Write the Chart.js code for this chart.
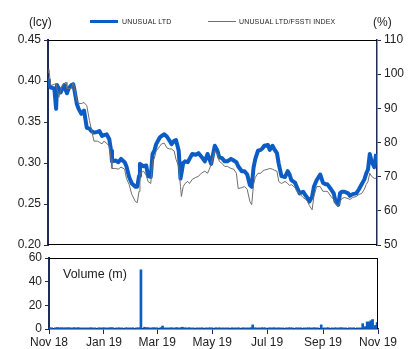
<!DOCTYPE html>
<html>
<head>
<meta charset="utf-8">
<script src="https://cdn.jsdelivr.net/npm/chart.js@4/dist/chart.umd.min.js"></script>
<style>
  body { margin:0; background:#fff; width:410px; height:349px; overflow:hidden; position:relative;
         font-family:"Liberation Sans", Arial, sans-serif; }
  canvas { position:absolute; left:0; }
  #main { top:0; }
  #vol  { top:250px; }
  .lbl { position:absolute; font-size:12px; line-height:14px; color:#222; white-space:nowrap; }
  .leg { position:absolute; font-size:7px; line-height:8px; color:#222; white-space:nowrap; letter-spacing:0.15px; }
  .swatch { position:absolute; height:0; }
</style>
</head>
<body>
<canvas id="main" width="410" height="250"></canvas>
<canvas id="vol" width="410" height="99"></canvas>

<div class="lbl" style="left:29px;top:15px">(lcy)</div>
<div class="lbl" style="left:373px;top:15px">(%)</div>
<div class="swatch" style="left:90px;top:20px;width:28px;border-top:3px solid #0b5cc4"></div>
<div class="leg" style="left:122px;top:18px">UNUSUAL LTD</div>
<div class="swatch" style="left:208px;top:21px;width:28px;border-top:1px solid #6e6e6e"></div>
<div class="leg" style="left:239px;top:18px">UNUSUAL LTD/FSSTI INDEX</div>
<div class="lbl" style="left:63px;top:267px;font-size:12.5px">Volume (m)</div>

<script>
// ─── Data ────────────────────────────────────────────────────────────────────
const START = "2018-11-01";

const dates = [
  "2018-11-01","2018-11-02","2018-11-04","2018-11-08","2018-11-10","2018-11-11","2018-11-13","2018-11-15","2018-11-17","2018-11-19",
  "2018-11-21","2018-11-22","2018-11-24","2018-11-27","2018-11-29","2018-11-30","2018-12-03","2018-12-05","2018-12-08","2018-12-11",
  "2018-12-14","2018-12-17","2018-12-19","2018-12-22","2018-12-26","2018-12-28","2018-12-31","2019-01-02","2019-01-05","2019-01-08",
  "2019-01-10","2019-01-11","2019-01-15","2019-01-18","2019-01-21","2019-01-25","2019-01-27","2019-01-30","2019-02-02","2019-02-06",
  "2019-02-08","2019-02-10","2019-02-11","2019-02-15","2019-02-18","2019-02-20","2019-02-23","2019-02-25","2019-02-27","2019-03-01",
  "2019-03-05","2019-03-07","2019-03-10","2019-03-13","2019-03-16","2019-03-18","2019-03-21","2019-03-23","2019-03-26","2019-03-28",
  "2019-03-29","2019-03-31","2019-04-02","2019-04-05","2019-04-07","2019-04-10","2019-04-14","2019-04-17","2019-04-20","2019-04-24",
  "2019-04-27","2019-04-29","2019-05-01","2019-05-05","2019-05-08","2019-05-10","2019-05-13","2019-05-16","2019-05-19","2019-05-23",
  "2019-05-26","2019-05-29","2019-05-31","2019-06-04","2019-06-07","2019-06-10","2019-06-13","2019-06-15","2019-06-17","2019-06-19",
  "2019-06-22","2019-06-25","2019-06-27","2019-06-29","2019-07-03","2019-07-05","2019-07-08","2019-07-10","2019-07-13","2019-07-15",
  "2019-07-18","2019-07-22","2019-07-25","2019-07-27","2019-07-29","2019-08-02","2019-08-04","2019-08-07","2019-08-11","2019-08-14",
  "2019-08-16","2019-08-18","2019-08-21","2019-08-23","2019-08-26","2019-08-30","2019-09-02","2019-09-05","2019-09-07","2019-09-11",
  "2019-09-14","2019-09-16","2019-09-19","2019-09-21","2019-09-23","2019-09-26","2019-09-30","2019-10-02","2019-10-05","2019-10-09",
  "2019-10-12","2019-10-15","2019-10-18","2019-10-20","2019-10-22","2019-10-24","2019-10-26","2019-10-29","2019-10-31"
];

// share price, local currency (left axis)
const price = [
  0.401,0.395,0.392,0.391,0.366,0.395,0.391,0.386,0.391,0.395,
  0.388,0.385,0.391,0.395,0.396,0.391,0.372,0.366,0.360,0.364,
  0.343,0.342,0.339,0.337,0.338,0.339,0.333,0.334,0.335,0.329,
  0.315,0.302,0.303,0.301,0.305,0.301,0.296,0.283,0.275,0.271,
  0.271,0.284,0.299,0.296,0.297,0.284,0.283,0.311,0.315,0.323,
  0.331,0.333,0.335,0.332,0.327,0.323,0.327,0.328,0.315,0.281,
  0.287,0.300,0.302,0.301,0.305,0.311,0.310,0.312,0.308,0.302,
  0.311,0.305,0.299,0.321,0.315,0.307,0.306,0.302,0.302,0.305,
  0.303,0.301,0.296,0.290,0.290,0.286,0.273,0.271,0.294,0.305,
  0.315,0.316,0.318,0.321,0.322,0.316,0.321,0.317,0.312,0.299,
  0.284,0.283,0.290,0.286,0.279,0.276,0.271,0.263,0.265,0.260,
  0.257,0.253,0.259,0.271,0.279,0.286,0.276,0.274,0.274,0.268,
  0.263,0.253,0.249,0.263,0.265,0.265,0.263,0.260,0.262,0.263,
  0.268,0.274,0.280,0.287,0.292,0.311,0.302,0.295,0.311
];

// relative to FSSTI index, % (right axis)
const relative = [
  100.5,101.4,96.7,97.0,97.3,95.8,93.2,95.2,96.7,97.3,
  97.6,95.8,95.8,95.8,97.6,96.4,92.3,91.4,91.4,91.7,
  90.8,86.4,84.0,80.4,80.4,80.1,79.6,80.4,79.8,78.9,
  75.1,72.4,72.4,72.2,72.8,72.2,69.5,67.7,64.8,62.7,
  62.4,65.7,71.0,71.6,70.4,68.6,68.0,74.5,75.4,77.5,
  78.9,79.6,79.8,78.4,78.1,78.1,77.5,75.1,73.0,67.1,
  64.2,67.1,68.0,68.6,68.0,69.2,69.8,70.1,71.0,71.6,
  71.0,72.2,73.6,77.5,76.6,74.5,73.9,73.0,73.0,72.4,
  72.2,71.0,66.5,66.8,67.1,66.3,62.7,61.8,67.7,69.8,
  71.0,71.0,71.6,71.9,72.2,72.4,72.2,71.9,71.6,68.6,
  68.0,68.6,68.0,67.4,67.7,66.8,65.7,65.1,63.9,63.3,
  62.7,61.5,60.3,64.2,67.1,67.1,65.7,65.7,65.7,64.2,
  63.3,62.1,61.2,62.7,63.6,63.9,63.6,63.3,63.9,64.2,
  64.8,65.1,66.3,67.7,68.6,71.0,70.1,69.5,69.5
];

// volume, millions of shares
const volume = [
  1.0,1.1,1.0,1.0,1.2,1.0,1.0,1.1,1.0,1.0,
  1.0,1.0,1.1,1.0,1.0,1.0,1.2,1.0,1.0,1.0,
  1.0,1.1,1.0,1.0,1.0,1.0,1.1,1.0,1.0,1.2,
  1.0,1.0,1.0,1.1,1.0,1.0,1.0,1.0,1.1,1.0,
  1.0,1.0,50.0,1.5,1.2,1.0,1.0,1.1,1.0,1.0,
  1.2,2.5,1.0,1.0,1.1,1.0,1.0,1.2,1.0,1.0,
  1.5,1.0,1.0,1.1,1.0,1.0,1.0,1.0,1.1,1.0,
  1.0,1.0,1.0,1.1,1.0,1.0,1.0,1.0,1.0,1.1,
  1.0,1.0,1.0,1.1,1.0,1.0,1.2,3.5,1.0,1.0,
  1.0,1.1,1.0,1.0,1.0,1.0,1.1,1.0,1.0,1.0,
  1.0,1.0,1.1,1.0,1.0,1.0,1.0,1.1,1.0,1.0,
  1.0,1.0,1.0,1.1,1.0,3.5,1.0,1.0,1.1,1.0,
  1.0,1.0,1.0,1.1,1.0,1.0,1.0,1.0,1.1,1.0,
  1.0,4.5,2.0,6.0,6.0,7.0,8.0,3.0,5.5
];

const tickDates  = ["2018-11-01","2019-01-01","2019-03-01","2019-05-01","2019-07-01","2019-09-01","2019-11-01"];
const tickLabels = ["Nov 18","Jan 19","Mar 19","May 19","Jul 19","Sep 19","Nov 19"];

const priceTicks = [0.20, 0.25, 0.30, 0.35, 0.40, 0.45];
const relTicks   = [50, 60, 70, 80, 90, 100, 110];
const volTicks   = [0, 20, 40, 60];

// ─── Colours ─────────────────────────────────────────────────────────────────
const BLUE  = "#0b5cc4";
const GREY  = "#6e6e6e";
const NAVY  = "#1f2a5c";
const TEXT  = "#222";

// ─── Helpers ─────────────────────────────────────────────────────────────────
function dayOf(s) {
    return (Date.parse(s + "T00:00:00Z") - Date.parse(START + "T00:00:00Z")) / 86400000;
}
const xDays   = dates.map(dayOf);
const tickPos = tickDates.map(dayOf);
const xMax    = tickPos[tickPos.length - 1];

const pts = (arr) => arr.map((v, i) => ({ x: xDays[i], y: v }));

Chart.defaults.font.family = "'Liberation Sans', Arial, sans-serif";
Chart.defaults.font.size   = 12;
Chart.defaults.color       = TEXT;
Chart.defaults.animation   = false;

// black frame lines on the sides that have no axis
const framePlugin = {
    id: "frame",
    afterDatasetsDraw(chart, args, opts) {
        const { ctx, chartArea: { left, right, top, bottom } } = chart;
        ctx.save();
        ctx.strokeStyle = "#000";
        ctx.lineWidth = 1;
        ctx.beginPath();
        if (opts.top)    { ctx.moveTo(left, top + 0.5);    ctx.lineTo(right, top + 0.5); }
        if (opts.bottom) { ctx.moveTo(left, bottom - 0.5); ctx.lineTo(right, bottom - 0.5); }
        if (opts.right)  { ctx.moveTo(right - 0.5, top);   ctx.lineTo(right - 0.5, bottom); }
        ctx.stroke();
        ctx.restore();
    }
};

function fixedTicks(list) {
    return (scale) => { scale.ticks = list.map(v => ({ value: v })); };
}

function yAxis(pos, min, max, list, width, fmt) {
    return {
        position: pos, min, max,
        afterBuildTicks: fixedTicks(list),
        afterFit: s => { s.width = width; s.paddingTop = 0; s.paddingBottom = 0; },
        ticks: { callback: fmt, padding: 3, color: TEXT, font: { size: 12 } },
        grid: { drawOnChartArea: false, tickLength: 4, color: NAVY, tickWidth: 1 },
        border: { color: NAVY, width: pos === "left" ? 2 : 1.5 }
    };
}

// ─── Price chart ────────────────────────────────────────────────────────────
new Chart(document.getElementById("main"), {
    type: "line",
    plugins: [framePlugin],
    data: {
        datasets: [
            {
                label: "UNUSUAL LTD/FSSTI INDEX",
                data: pts(relative),
                yAxisID: "y1",
                borderColor: GREY,
                borderWidth: 1,
                pointRadius: 0,
                tension: 0,
            },
            {
                label: "UNUSUAL LTD",
                data: pts(price),
                yAxisID: "y",
                borderColor: BLUE,
                borderWidth: 4,
                borderJoinStyle: "round",
                pointRadius: 0,
                tension: 0,
            }
        ]
    },
    options: {
        responsive: false,
        layout: { padding: { top: 40, bottom: 5, left: 0, right: 0 } },
        scales: {
            x: { type: "linear", min: 0, max: xMax, display: false },
            y: yAxis("left", 0.2, 0.45, priceTicks, 48, v => v.toFixed(2)),
            y1: yAxis("right", 50, 110, relTicks, 33, v => String(v)),
        },
        plugins: {
            legend: { display: false },
            tooltip: { enabled: false },
            frame: { top: true, bottom: true }
        }
    }
});

// ─── Volume chart ───────────────────────────────────────────────────────────
new Chart(document.getElementById("vol"), {
    type: "bar",
    plugins: [framePlugin],
    data: {
        datasets: [{
            label: "Volume (m)",
            data: pts(volume),
            backgroundColor: BLUE,
            barThickness: 2,
        }]
    },
    options: {
        responsive: false,
        layout: { padding: { top: 8, bottom: 0, left: 0, right: 32 } },
        scales: {
            x: {
                type: "linear", min: 0, max: xMax, offset: false,
                afterBuildTicks: fixedTicks(tickPos),
                afterFit: s => { s.height = 20; s.paddingLeft = 0; s.paddingRight = 0; },
                ticks: {
                    autoSkip: false, maxRotation: 0, padding: 1, color: TEXT,
                    callback: v => tickLabels[tickPos.indexOf(v)] ?? ""
                },
                grid: { drawOnChartArea: false, offset: false, tickLength: 5, color: NAVY },
                border: { color: NAVY, width: 1.5 }
            },
            y: yAxis("left", 0, 60, volTicks, 49, v => String(v)),
        },
        plugins: {
            legend: { display: false },
            tooltip: { enabled: false },
            frame: { top: true, right: true }
        }
    }
});
</script>
</body>
</html>
